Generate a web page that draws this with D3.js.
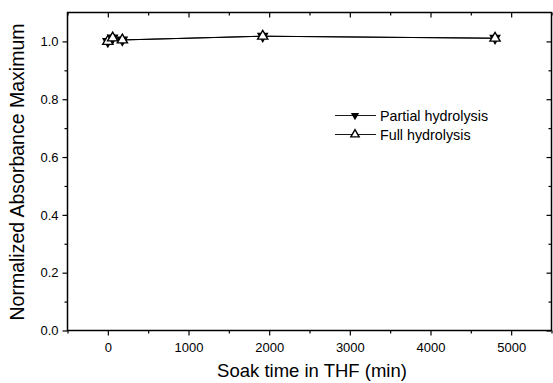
<!DOCTYPE html>
<html>
<head>
<meta charset="utf-8">
<script src="https://cdn.jsdelivr.net/npm/d3@7"></script>
<style>
  body { margin: 0; background: #fff; }
  text { font-family: "Liberation Sans", Arial, sans-serif; fill: #000; }
</style>
</head>
<body>
<script>
// soak time data
var soakTimes = [0, 60, 180, 1920, 4800];
var partialValues = [1.0, 1.012, 1.005, 1.018, 1.011];
var fullValues = [1.0, 1.012, 1.005, 1.018, 1.011];
var xTicks = [0, 1000, 2000, 3000, 4000, 5000];
var yTicks = [0.0, 0.2, 0.4, 0.6, 0.8, 1.0];
var seriesNames = ["Partial hydrolysis", "Full hydrolysis"];

var width = 553,
	height = 383,
	plotLeft = 67.5, plotRight = 551.5,
	plotTop = 12.5, plotBottom = 330.5;

var svg = d3.select('body').append('svg')
	.attr('width', width)
	.attr('height', height);

var x = d3.scaleLinear().domain([-500, 5500]).range([plotLeft, plotRight]);
var y = d3.scaleLinear().domain([0, 1.1]).range([plotBottom, plotTop]);

var xMinor = d3.range(-500, 5501, 500).filter(function(v){ return v % 1000 !== 0; });
var yMinor = d3.range(0.1, 1.1, 0.2).map(function(v){ return +v.toFixed(1); });

function noDomain(g){ g.select('.domain').remove(); }

// bottom axis, ticks outward
svg.append('g')
	.attr('transform', 'translate(0,' + plotBottom + ')')
	.call(d3.axisBottom(x).tickValues(xTicks).tickSize(5).tickPadding(7).tickFormat(d3.format('d')))
	.call(noDomain)
	.selectAll('text').style('font-size', '13px');
svg.append('g')
	.attr('transform', 'translate(0,' + plotBottom + ')')
	.call(d3.axisBottom(x).tickValues(xMinor).tickSize(3).tickFormat(''))
	.call(noDomain);

// left axis
svg.append('g')
	.attr('transform', 'translate(' + plotLeft + ',0)')
	.call(d3.axisLeft(y).tickValues(yTicks).tickSize(5).tickPadding(4).tickFormat(d3.format('.1f')))
	.call(noDomain)
	.selectAll('text').style('font-size', '13px');
svg.append('g')
	.attr('transform', 'translate(' + plotLeft + ',0)')
	.call(d3.axisLeft(y).tickValues(yMinor).tickSize(3).tickFormat(''))
	.call(noDomain);

// top axis, ticks inward
svg.append('g')
	.attr('transform', 'translate(0,' + plotTop + ')')
	.call(d3.axisBottom(x).tickValues(xTicks).tickSize(5).tickFormat(''))
	.call(noDomain);
svg.append('g')
	.attr('transform', 'translate(0,' + plotTop + ')')
	.call(d3.axisBottom(x).tickValues(xMinor).tickSize(3).tickFormat(''))
	.call(noDomain);

// right axis, ticks inward
svg.append('g')
	.attr('transform', 'translate(' + plotRight + ',0)')
	.call(d3.axisLeft(y).tickValues(yTicks).tickSize(5).tickFormat(''))
	.call(noDomain);
svg.append('g')
	.attr('transform', 'translate(' + plotRight + ',0)')
	.call(d3.axisLeft(y).tickValues(yMinor).tickSize(3).tickFormat(''))
	.call(noDomain);

svg.selectAll('.tick line').attr('stroke', '#000').attr('stroke-width', 1.2);

// frame
svg.append('rect')
	.attr('x', plotLeft).attr('y', plotTop)
	.attr('width', plotRight - plotLeft).attr('height', plotBottom - plotTop)
	.attr('fill', 'none')
	.attr('stroke', '#000')
	.attr('stroke-width', 1.5);

// axis titles
svg.append('text')
	.attr('x', 312)
	.attr('y', 377)
	.attr('text-anchor', 'middle')
	.style('font-size', '18.5px')
	.text('Soak time in THF (min)');

svg.append('text')
	.attr('transform', 'translate(24,172) rotate(-90)')
	.attr('text-anchor', 'middle')
	.style('font-size', '19.5px')
	.text('Normalized Absorbance Maximum');

var partial = soakTimes.map(function(t, i){ return {t: t, v: partialValues[i]}; });
var full = soakTimes.map(function(t, i){ return {t: t, v: fullValues[i]}; });

var line = d3.line()
	.x(function(d){ return x(d.t); })
	.y(function(d){ return y(d.v); });

[partial, full].forEach(function(s){
	svg.append('path')
		.datum(s)
		.attr('d', line)
		.attr('fill', 'none')
		.attr('stroke', '#000')
		.attr('stroke-width', 1);
});

var downTri = d3.symbol().type(d3.symbolTriangle).size(60);
var upTri = d3.symbol().type(d3.symbolTriangle).size(45);

svg.selectAll('.pt-partial')
	.data(partial)
	.enter().append('path').classed('pt-partial', true)
	.attr('d', downTri)
	.attr('transform', function(d){ return 'translate(' + x(d.t) + ',' + y(d.v) + ') rotate(180)'; })
	.attr('fill', '#000');

svg.selectAll('.pt-full')
	.data(full)
	.enter().append('path').classed('pt-full', true)
	.attr('d', upTri)
	.attr('transform', function(d){ return 'translate(' + x(d.t) + ',' + y(d.v) + ')'; })
	.attr('fill', '#fff')
	.attr('stroke', '#000')
	.attr('stroke-width', 1.4);

// legend
var legendTri = d3.symbol().type(d3.symbolTriangle).size(30);
var legend = svg.append('g');
seriesNames.forEach(function(name, i){
	var ly = 115.5 + i * 19;
	legend.append('line')
		.attr('x1', 335).attr('x2', 376)
		.attr('y1', ly).attr('y2', ly)
		.attr('stroke', '#000').attr('stroke-width', 0.9);
	var sym = legend.append('path').attr('d', legendTri);
	if (i === 0) {
		sym.attr('transform', 'translate(355,' + ly + ') rotate(180)').attr('fill', '#000');
	} else {
		sym.attr('transform', 'translate(355,' + ly + ')')
			.attr('fill', '#fff').attr('stroke', '#000').attr('stroke-width', 1.4);
	}
	legend.append('text')
		.attr('x', 380).attr('y', ly + 5)
		.style('font-size', '14.3px')
		.text(name);
});
</script>
</body>
</html>
